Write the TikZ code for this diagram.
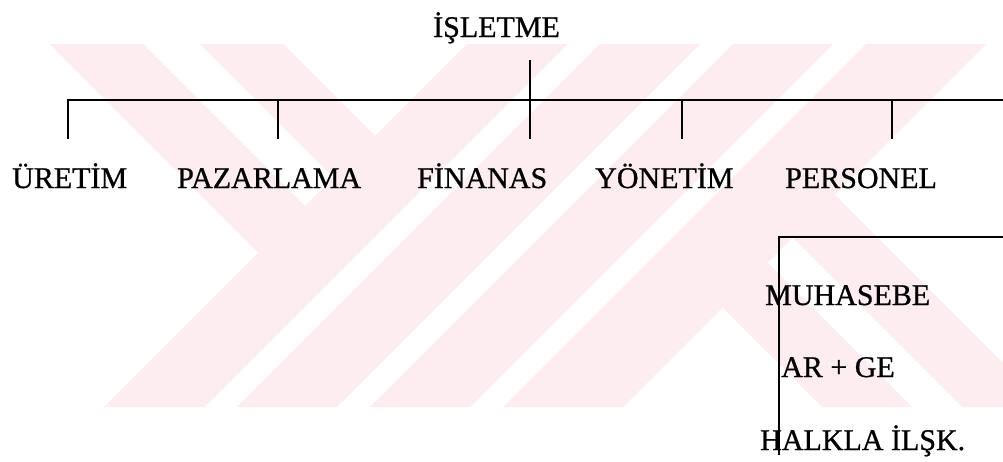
\documentclass[tikz,border=0pt]{standalone}
\usepackage{fontspec}
\setmainfont[FakeBold=0.8]{Liberation Serif}
\definecolor{wm}{RGB}{253,236,240}
\begin{document}
\begin{tikzpicture}[x=1pt,y=-1pt,
  lbl/.style={anchor=base west,inner sep=0pt,font=\fontsize{30}{36}\selectfont},
  conn/.style={line width=2.6pt,black},
  wmband/.style={fill=wm,draw=none}]
\useasboundingbox (0,0) rectangle (1003,461);
\fill[white] (0,0) rectangle (1003,461);
% pale watermark
\fill[wmband] (50,44) -- (143,44) -- (305,206) -- (258.5,252.5) -- cycle;
\fill[wmband] (200,44) -- (283,44) -- (375,136) -- (333.5,177.5) -- cycle;
\fill[wmband] (467,44) -- (567,44) -- (204,407) -- (104,407) -- cycle;
\fill[wmband] (600,44) -- (700,44) -- (337,407) -- (237,407) -- cycle;
\fill[wmband] (733,44) -- (833,44) -- (470,407) -- (370,407) -- cycle;
\fill[wmband] (866,44) -- (986,44) -- (623,407) -- (503,407) -- cycle;
\fill[wmband] (722.5,307.5) -- (767.5,262.5) -- (912,407) -- (822,407) -- cycle;
\fill[wmband] (792.5,237.5) -- (835,195) -- (1003,363) -- (1003,407) -- (962,407) -- cycle;
% labels
\node[lbl] (root) at (433,37) {İŞLETME};
\node[lbl] (uretim) at (12,188) {ÜRETİM};
\node[lbl] (pazar) at (177,188) {PAZARLAMA};
\node[lbl] (finans) at (417,188) {FİNANAS};
\node[lbl] (yonetim) at (595,188) {YÖNETİM};
\node[lbl] (personel) at (785,188) {PERSONEL};
\node[lbl] (muhasebe) at (765,305) {MUHASEBE};
\node[lbl] (arge) at (781,377) {AR + GE};
\node[lbl] (halkla) at (760,450) {HALKLA İLŞK.};
% connector points
\coordinate (drop) at (530,60);
\coordinate (b1) at (68,100);
\coordinate (b2) at (278,100);
\coordinate (b3) at (530,100);
\coordinate (b4) at (682,100);
\coordinate (b5) at (892,100);
\coordinate (bR) at (1003,100);
\coordinate (t1) at (68,139);
\coordinate (t2) at (278,139);
\coordinate (t3) at (530,139);
\coordinate (t4) at (682,139);
\coordinate (t5) at (892,139);
\coordinate (boxR) at (1003,237);
\coordinate (boxL) at (779,237);
\coordinate (boxB) at (779,455);
% connectors
\draw[conn] (t1) -- (b1) -- (bR);
\draw[conn] (drop) -- (t3);
\draw[conn] (b2) -- (t2);
\draw[conn] (b4) -- (t4);
\draw[conn] (b5) -- (t5);
\draw[conn] (boxR) -- (boxL) -- (boxB);
\end{tikzpicture}
\end{document}
